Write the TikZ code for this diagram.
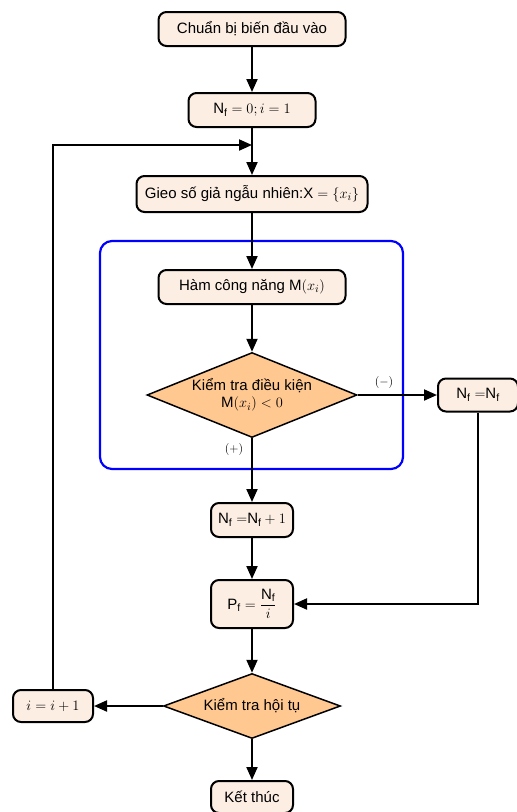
\documentclass[tikz,border=0pt]{standalone}
\usepackage{fontspec}
\setmainfont{Liberation Sans}
\usetikzlibrary{shapes.geometric,arrows.meta}
\definecolor{boxfill}{HTML}{FCEEE3}
\definecolor{decfill}{HTML}{FFC891}

\begin{document}
\begin{tikzpicture}[x=1pt, y=-1pt, line width=2pt, font=\fontsize{15}{17}\selectfont,
    proc/.style = {draw, rounded corners=8pt, fill=boxfill, minimum height=34pt, inner sep=0pt},
    decision/.style = {draw, diamond, fill=decfill, inner sep=0pt, line width=1.5pt},
    arr/.style = {-{Triangle[length=13pt,width=11pt]}},
    sign/.style = {font=\fontsize{12}{14}\selectfont}]
    \useasboundingbox (0,0) rectangle (517,812);

    % khung vong lap
    \draw[blue, line width=2.2pt, rounded corners=12pt] (100,241) rectangle (403,469);

    \node[proc, minimum width=187pt] (start) at (252,29) {Chuẩn bị biến đầu vào};
    \node[proc, minimum width=127pt] (init) at (252,110) {N$_\mathrm{f}=0; i=1$};
    \node[proc, minimum width=231pt, minimum height=36pt] (gieo) at (252,194) {Gieo số giả ngẫu nhiên:X${}=\{x_i\}$};
    \node[proc, minimum width=187pt] (ham) at (252,287) {Hàm công năng M$(x_i)$};
    \node[decision, minimum width=210pt, minimum height=85pt,
        label={[align=center]center:{Kiểm tra điều kiện\\M$(x_i)<0$}}] (kt) at (252,395) {};
    \node[proc, minimum width=80pt, minimum height=33pt] (giu) at (478,395) {N$_\mathrm{f}=$N$_\mathrm{f}$};
    \node[proc, minimum width=82pt] (tang) at (252,520) {N$_\mathrm{f}=$N$_\mathrm{f}+1$};
    \node[proc, minimum width=82pt, minimum height=48pt] (pf) at (252,604) {P$_\mathrm{f}=\displaystyle\frac{\mbox{N}_\mathrm{f}}{i}$};
    \node[decision, minimum width=177pt, minimum height=65pt,
        label={center:Kiểm tra hội tụ}] (ht) at (252,706) {};
    \node[proc, minimum width=80pt, minimum height=32pt] (inc) at (53,706) {$i=i+1$};
    \node[proc, minimum width=82pt, minimum height=32pt] (end) at (252,797) {Kết thúc};
    \coordinate (join) at (252,145);

    \node[sign] (am) at (384,382) {$(-)$};
    \node[sign] (duong) at (234,449) {$(+)$};

    \draw[arr] (start) -- (init);
    \draw[arr] (init) -- (gieo);
    \draw[arr] (gieo) -- (ham);
    \draw[arr] (ham) -- (kt);
    \draw[arr] (kt) -- (giu);
    \draw[arr] (kt) -- (tang);
    \draw[arr] (tang) -- (pf);
    \draw[arr] (giu.south) |- (pf.east);
    \draw[arr] (pf) -- (ht);
    \draw[arr] (ht) -- (inc);
    \draw[arr] (ht) -- (end);
    \draw[arr] (inc.north) |- (join);
\end{tikzpicture}
\end{document}
